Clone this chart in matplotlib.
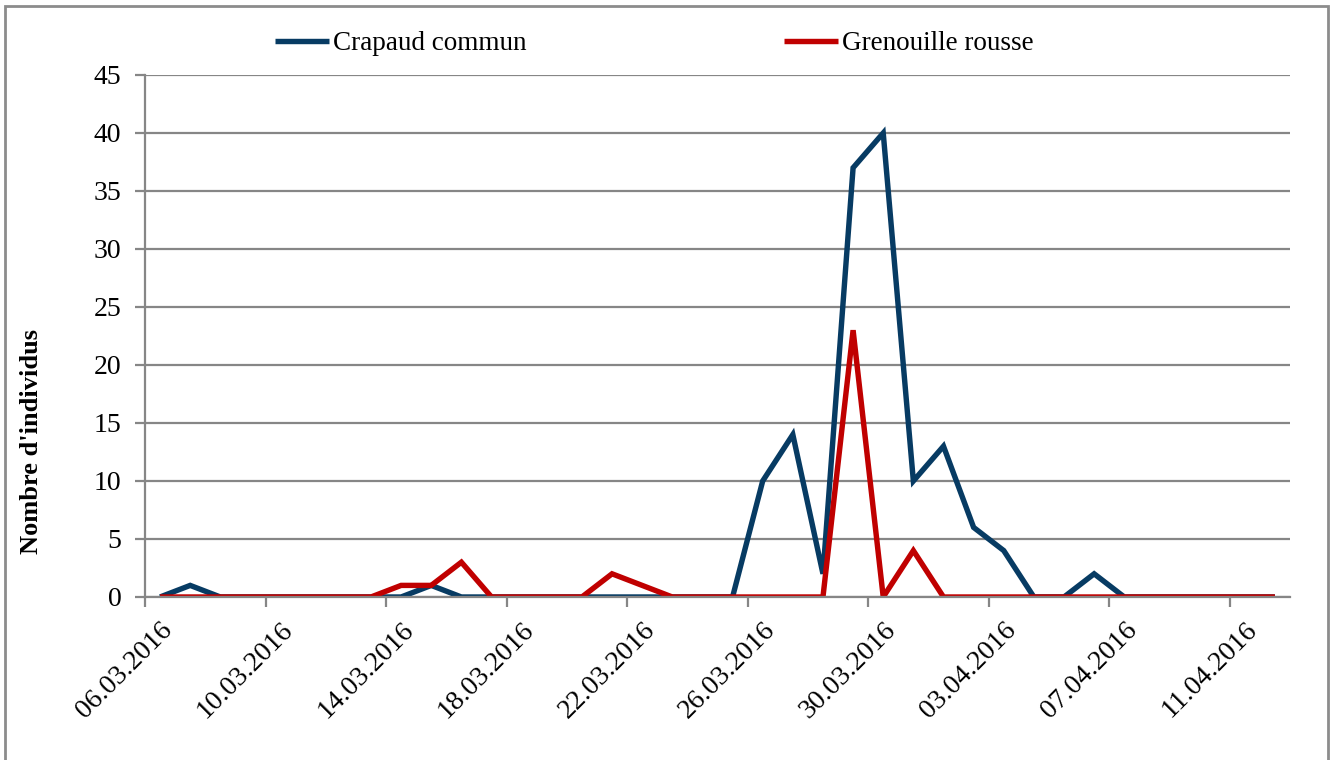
import numpy as np
import pandas as pd
import matplotlib
matplotlib.use("Agg")
import matplotlib.pyplot as plt
import matplotlib.dates as mdates
import matplotlib.transforms as mtransforms
from matplotlib.patches import Rectangle

# Données : comptages journaliers du 06.03.2016 au 12.04.2016
dates = pd.date_range("2016-03-06", "2016-04-12", freq="D")
crapaud = [0, 1, 0, 0, 0, 0, 0, 0, 0, 1, 0, 0, 0, 0, 0, 0, 0, 0, 0, 0,
           10, 14, 2, 37, 40, 10, 13, 6, 4, 0, 0, 2, 0, 0, 0, 0, 0, 0]
grenouille = [0, 0, 0, 0, 0, 0, 0, 0, 1, 1, 3, 0, 0, 0, 0, 2, 1, 0, 0, 0,
              0, 0, 0, 23, 0, 4, 0, 0, 0, 0, 0, 0, 0, 0, 0, 0, 0, 0]
labels = ["Crapaud commun", "Grenouille rousse"]
colors = ["#073B63", "#C00000"]
yticks = list(range(0, 50, 5))

plt.rcParams["font.family"] = ["Liberation Serif", "DejaVu Serif"]

fig = plt.figure(figsize=(13.37, 7.6), dpi=100)
# cadre du graphique (style Excel)
fig.patches.append(Rectangle((5 / 1337, -0.1), 1323 / 1337, 1.1 - 6 / 760,
                             transform=fig.transFigure, fill=False,
                             edgecolor="#8C8C8C", linewidth=2))

ax = fig.add_axes([145 / 1337, 1 - 597 / 760, 1145 / 1337, 522 / 760])

x = dates + pd.Timedelta(hours=12)  # points au milieu du jour
ax.plot(x, crapaud, color=colors[0], linewidth=3.9, label=labels[0],
        solid_joinstyle="miter", solid_capstyle="butt")
ax.plot(x, grenouille, color=colors[1], linewidth=3.9, label=labels[1],
        solid_joinstyle="miter", solid_capstyle="butt")

ax.set_xlim(pd.Timestamp("2016-03-06"), pd.Timestamp("2016-04-13"))
ax.set_ylim(0, 45)
ax.set_yticks(yticks)
ax.set_xticks(pd.date_range("2016-03-06", "2016-04-13", freq="4D"))
ax.xaxis.set_major_formatter(mdates.DateFormatter("%d.%m.%Y"))

ax.grid(axis="y", color="#868686", linewidth=1.6)
ax.set_axisbelow(True)
for s in ["top", "right"]:
    ax.spines[s].set_visible(False)
for s in ["left", "bottom"]:
    ax.spines[s].set_color("#868686")
    ax.spines[s].set_linewidth(1.6)
ax.tick_params(axis="both", direction="out", length=7, width=1.6,
               color="#868686", labelsize=20, labelcolor="black")
ax.tick_params(axis="y", pad=10)
ax.tick_params(axis="x", pad=6)
offset = mtransforms.ScaledTranslation(15 / 100, -2 / 100, fig.dpi_scale_trans)
for lab in ax.get_xticklabels():
    lab.set_rotation(45)
    lab.set_ha("right")
    lab.set_va("top")
    lab.set_rotation_mode("anchor")
    lab.set_transform(lab.get_transform() + offset)

fig.text(31 / 1337, 1 - 442 / 760, "Nombre d'individus", rotation=90,
         ha="center", va="center", fontsize=19, fontweight="bold")

fig.legend(loc="center", bbox_to_anchor=(654 / 1337, 1 - 44 / 760), ncol=2,
           frameon=False, fontsize=19.5, handlelength=2.0, handletextpad=0.15,
           columnspacing=9.5, borderpad=0)

fig.savefig("out.png", dpi=100)
